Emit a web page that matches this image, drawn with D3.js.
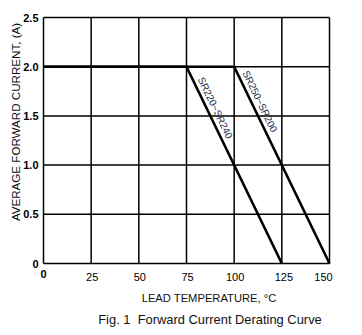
<!DOCTYPE html>
<html><head><meta charset="utf-8">
<script src="https://cdn.jsdelivr.net/npm/d3@7"></script>
<style>body{margin:0;background:#fff}svg{display:block;font-family:"Liberation Sans",Arial,sans-serif}</style>
</head><body>
<svg id="c" width="362" height="335"></svg>
<script>
const xTicks = [0,25,50,75,100,125,150];
const yTicks = [0,0.5,1.0,1.5,2.0,2.5];
const yTickLabels = ["0","0.5","1.0","1.5","2.0","2.5"];
const seriesNames = ["SR220~SR240","SR250~SR200"];
const seriesA = [{t:0,i:2.0},{t:75,i:2.0},{t:125,i:0}];
const seriesB = [{t:0,i:2.0},{t:100,i:2.0},{t:150,i:0}];

const svg = d3.select("#c");
const x = d3.scaleLinear().domain([0,150]).range([43.5,329.5]);
const y = d3.scaleLinear().domain([0,2.5]).range([263.5,17.5]);

// grid
const g = svg.append("g");
g.selectAll(".vx").data(xTicks).join("line")
  .attr("x1",d=>x(d)).attr("x2",d=>x(d)).attr("y1",y(0)).attr("y2",y(2.5))
  .attr("stroke","#000").attr("stroke-width",1.5);
g.selectAll(".hy").data(yTicks).join("line")
  .attr("y1",d=>y(d)).attr("y2",d=>y(d)).attr("x1",x(0)).attr("x2",x(150))
  .attr("stroke","#000").attr("stroke-width",1.5);

// y tick labels
svg.selectAll(".yl").data(yTicks).join("text")
  .attr("x",38.5).attr("y",d=>y(d)+4).attr("text-anchor","end")
  .attr("font-size",11).attr("font-weight","bold").text((d,i)=>yTickLabels[i]);
// x tick labels
svg.selectAll(".xl").data(xTicks).join("text")
  .attr("x",d=>d===0?x(d):x(d)+(d>=125?(d===150?-6:2):1)).attr("y",d=>d===0?278:281)
  .attr("text-anchor","middle").attr("font-size",11)
  .attr("font-weight",d=>d===0?"bold":"normal").text(d=>d);

// lines
const line = d3.line().x(d=>x(d.t)).y(d=>y(d.i));
[seriesA,seriesB].forEach(s=>{
  svg.append("path").attr("d",line(s)).attr("fill","none")
    .attr("stroke","#000").attr("stroke-width",2.6);
});

// series labels along the sloped segment, offset to the right of the line
function lab(s,name,along,perp){
  const p0=s[1], p1=s[2];
  const X0=x(p0.t),Y0=y(p0.i),X1=x(p1.t),Y1=y(p1.i);
  const a=Math.atan2(Y1-Y0,X1-X0);
  const ux=Math.cos(a), uy=Math.sin(a);
  const nx=Math.sin(a), ny=-Math.cos(a);
  const px=X0+ux*along+nx*perp, py=Y0+uy*along+ny*perp;
  svg.append("text").attr("transform",`translate(${px},${py}) rotate(${a*180/Math.PI})`)
    .attr("font-size",10).attr("fill","#232c48").text(name);
}
lab(seriesA,seriesNames[0],16,4.5);
lab(seriesB,seriesNames[1],9,4.5);

// axis titles
svg.append("text").attr("transform","translate(19.5,122) rotate(-90)")
  .attr("text-anchor","middle").attr("font-size",11.6).attr("fill","#111")
  .text("AVERAGE FORWARD CURRENT, (A)");
svg.append("text").attr("x",209).attr("y",302).attr("text-anchor","middle")
  .attr("font-size",11.2).attr("fill","#111").text("LEAD TEMPERATURE, °C");
svg.append("text").attr("x",210).attr("y",323.5).attr("text-anchor","middle")
  .attr("font-size",12.9).attr("fill","#111").attr("xml:space","preserve")
  .style("white-space","pre").text("Fig. 1  Forward Current Derating Curve");
</script>
</body></html>
